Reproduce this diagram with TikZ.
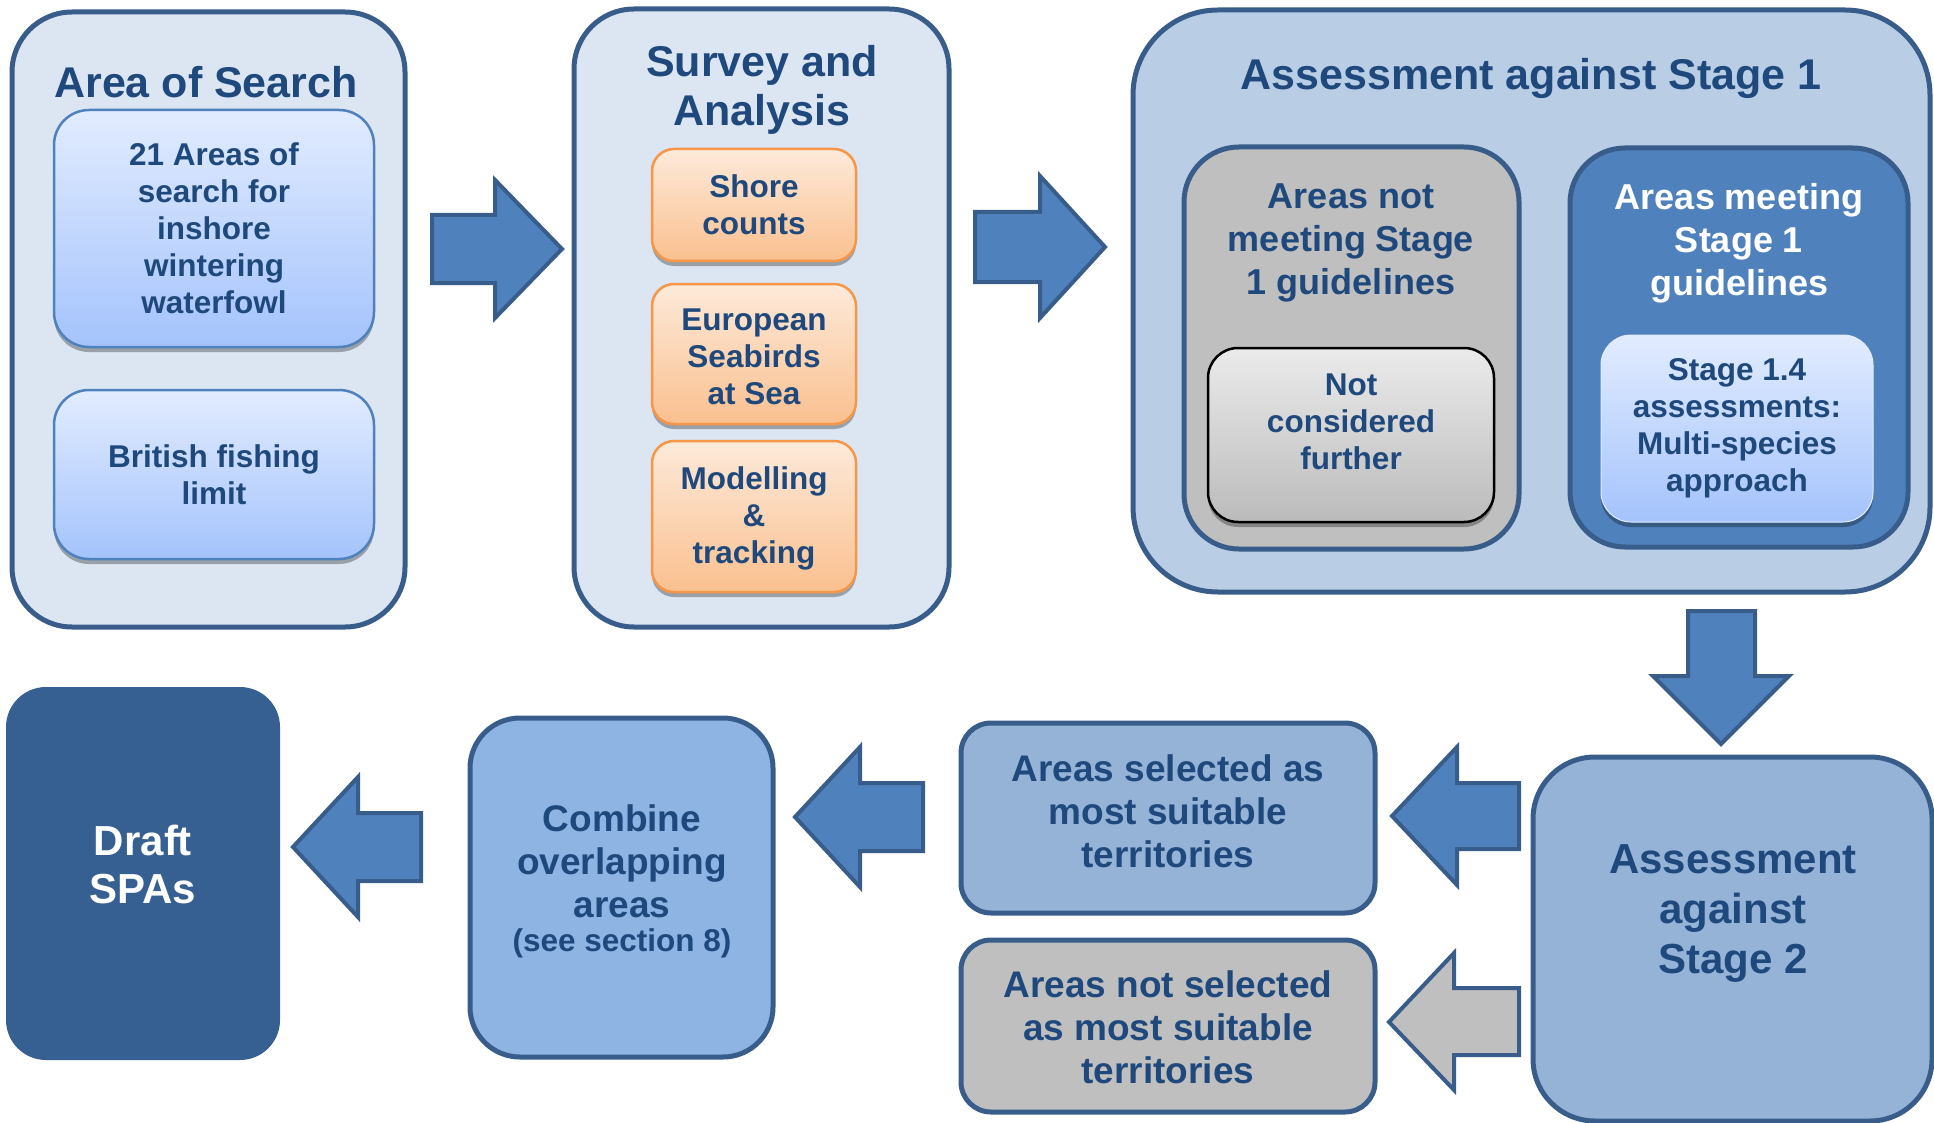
\documentclass[tikz,border=0pt]{standalone}
\usepackage{fontspec}
\setmainfont{Liberation Sans}
\usetikzlibrary{fit,shadows}

\definecolor{paleblue}{HTML}{DCE6F2}
\definecolor{edgeblue}{HTML}{385D8A}
\definecolor{stageone}{HTML}{B9CDE5}
\definecolor{midgrey}{HTML}{BFBFBF}
\definecolor{meetblue}{HTML}{4F81BD}
\definecolor{draftblue}{HTML}{376092}
\definecolor{combineblue}{HTML}{8EB4E3}
\definecolor{selectblue}{HTML}{95B3D7}
\definecolor{textblue}{HTML}{1F497D}
\definecolor{lighttop}{HTML}{E2ECFF}
\definecolor{lightbot}{HTML}{A4C3FC}
\definecolor{lightedge}{HTML}{4F81BD}
\definecolor{orangetop}{HTML}{FDEADA}
\definecolor{orangebot}{HTML}{FAC08F}
\definecolor{orangeedge}{HTML}{F79646}
\definecolor{greytop}{HTML}{EBEBEB}
\definecolor{greybot}{HTML}{BBBBBB}

\tikzset{
  panel/.style={draw=edgeblue, line width=5pt, fill=paleblue, rounded corners=60pt, inner sep=0pt},
  subpanel/.style={draw=edgeblue, line width=5pt, rounded corners=55pt, inner sep=0pt},
  lightbox/.style={draw=lightedge, line width=2.5pt, top color=lighttop, bottom color=lightbot,
    rounded corners=35pt, inner sep=0pt,
    drop shadow={shadow xshift=0pt, shadow yshift=-5pt, opacity=0.3, fill=black}},
  orangebox/.style={lightbox, draw=orangeedge, top color=orangetop, bottom color=orangebot,
    rounded corners=22pt},
  greybox/.style={lightbox, draw=black, top color=greytop, bottom color=greybot,
    rounded corners=30pt},
  flatbox/.style={draw=edgeblue, line width=5pt, rounded corners=30pt, inner sep=0pt},
  bigarrow/.style={draw=edgeblue, line width=4pt, fill=meetblue, line join=miter},
  title/.style={font=\fontsize{43}{49}\selectfont\bfseries, text=textblue, align=center},
  mid/.style={font=\fontsize{37}{43}\selectfont\bfseries, text=textblue, align=center},
  small/.style={font=\fontsize{31.5}{37}\selectfont\bfseries, text=textblue, align=center}
}

\begin{document}
\begin{tikzpicture}[x=1pt, y=-1pt]
    \useasboundingbox (0,0) rectangle (1934,1123);

    % Area of search
    \node[panel, fit={(12,12) (405,627)}] (search) {};
    \node[title] (searchtitle) at (206,82) {Area of Search};
    \node[lightbox, fit={(54,110) (374,347)}] (areas21) {};
    \node[small] at (areas21.center) {21 Areas of\\search for\\inshore\\wintering\\waterfowl};
    \node[lightbox, fit={(54,390) (374,559)}] (fishing) {};
    \node[small] at (fishing.center) {British fishing\\limit};

    % Survey and analysis
    \node[panel, fit={(574,9) (949,627)}] (survey) {};
    \node[title] (surveytitle) at (762,90) {Survey and\\Analysis};
    \node[orangebox, fit={(652,149) (856,261)}] (shore) {};
    \node[small] at (shore.center) {Shore\\counts};
    \node[orangebox, fit={(652,284) (856,424)}] (esas) {};
    \node[small] at ([yshift=-3pt]esas.center) {European\\Seabirds\\at Sea};
    \node[orangebox, fit={(652,441) (856,592)}] (model) {};
    \node[small] at ([yshift=-2pt]model.center) {Modelling\\\&\\tracking};

    % Assessment against stage 1
    \node[panel, fill=stageone, rounded corners=85pt, fit={(1133,10) (1930,592)}] (stageone) {};
    \node[title] (stageonetitle) at (1531,78) {Assessment against Stage 1};
    \node[subpanel, fill=midgrey, fit={(1184,147) (1519,549)}] (notmeet) {};
    \node[mid, font=\fontsize{36}{43}\selectfont\bfseries] at (1351,243) {Areas not\\meeting Stage\\1 guidelines};
    \node[greybox, fit={(1208,348) (1494,522)}] (notfurther) {};
    \node[small] at (1351,422) {Not\\considered\\further};
    \node[subpanel, fill=meetblue, fit={(1570,148) (1908,547)}] (meet) {};
    \node[mid, font=\fontsize{36}{43}\selectfont\bfseries, text=white] at (1739,243) {Areas meeting\\Stage 1\\guidelines};
    \node[lightbox, draw=lighttop, line width=1pt, rounded corners=30pt, fit={(1601,335) (1873,522)}] (multi) {};
    \node[small] at (multi.center) {Stage 1.4\\assessments:\\Multi-species\\approach};

    % Assessment against stage 2
    \node[panel, fill=selectblue, rounded corners=62pt, fit={(1533,757) (1932,1121)}] (stagetwo) {};
    \node[title, font=\fontsize{42}{50}\selectfont\bfseries] at (1733,913) {Assessment\\against\\Stage 2};
    \node[flatbox, fill=selectblue, fit={(961,723) (1375,913)}] (selected) {};
    \node[mid] at (1168,811) {Areas selected as\\most suitable\\territories};
    \node[flatbox, fill=midgrey, fit={(961,940) (1375,1112)}] (notselected) {};
    \node[mid] at (1168,1027) {Areas not selected\\as most suitable\\territories};

    % Combine and draft
    \node[panel, fill=combineblue, rounded corners=50pt, fit={(470,718) (773,1057)}] (combine) {};
    \node[mid] at (622,861) {Combine\\overlapping\\areas};
    \node[small] at (622,943) {(see section 8)};
    \node[draw=none, fill=draftblue, rounded corners=40pt, inner sep=0pt, fit={(6,687) (280,1060)}] (draft) {};
    \node[title, font=\fontsize{42}{48}\selectfont\bfseries, text=white] at (143,864) {Draft\\SPAs};

    % Block arrows
    \draw[bigarrow] (432,215) -- (495,215) -- (495,180) -- (562,249) -- (495,318) -- (495,283) -- (432,283) -- cycle;
    \draw[bigarrow] (975,212) -- (1040,212) -- (1040,176) -- (1105,247) -- (1040,318) -- (1040,282) -- (975,282) -- cycle;
    \draw[bigarrow] (1688,611) -- (1688,676) -- (1653,676) -- (1721,744) -- (1789,676) -- (1755,676) -- (1755,611) -- cycle;
    \draw[bigarrow] (1519,783) -- (1457,783) -- (1457,747) -- (1392,816) -- (1457,885) -- (1457,849) -- (1519,849) -- cycle;
    \draw[bigarrow, fill=midgrey] (1519,988) -- (1454,988) -- (1454,953) -- (1389,1022) -- (1454,1090) -- (1454,1055) -- (1519,1055) -- cycle;
    \draw[bigarrow] (923,783) -- (860,783) -- (860,747) -- (795,817) -- (860,887) -- (860,851) -- (923,851) -- cycle;
    \draw[bigarrow] (421,813) -- (358,813) -- (358,777) -- (293,847) -- (358,917) -- (358,881) -- (421,881) -- cycle;
\end{tikzpicture}
\end{document}
